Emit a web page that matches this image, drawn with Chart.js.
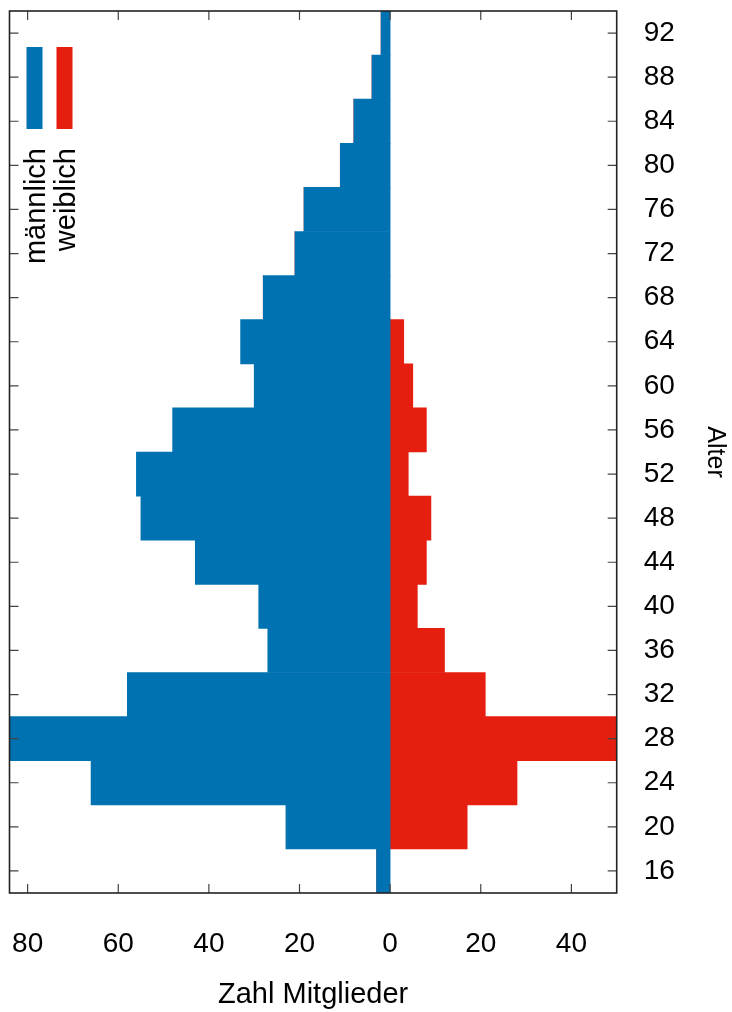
<!DOCTYPE html>
<html>
<head>
<meta charset="utf-8">
<script src="https://cdn.jsdelivr.net/npm/chart.js@4.4.0/dist/chart.umd.min.js"></script>
<style>
  html, body { margin: 0; padding: 0; background: #fff; }
  #wrap { width: 732px; height: 1012px; }
</style>
</head>
<body>
<div id="wrap"><canvas id="c"></canvas></div>
<script>
// Age groups (centres of 4-year bins)
const ages = [16, 20, 24, 28, 32, 36, 40, 44, 48, 52, 56, 60, 64, 68, 72, 76, 80, 84, 88, 92];
// Number of members per age group
const male   = [3, 23, 66, 88, 58, 27, 29, 43, 55, 56, 48, 30, 33, 28, 21, 19, 11, 8, 4, 2];
const female = [0, 17, 28, 55, 21, 12, 6, 8, 9, 4, 8, 5, 3, 0, 0, 0, 0, 0, 0, 0];
// X tick values (males drawn to the left as negatives)
const xTicks = [-80, -60, -40, -20, 0, 20, 40];
const xMin = -84, xMax = 50;
const seriesLabels = ['männlich', 'weiblich'];
const colors = ['#0072b2', '#e51e10'];

const FONT = '"Liberation Sans", Arial, Helvetica, sans-serif';

function zeroPad(scale) {
  scale.paddingTop = 0; scale.paddingBottom = 0;
  scale.paddingLeft = 0; scale.paddingRight = 0;
}

const framePlugin = {
  id: 'frame',
  afterDatasetsDraw(chart) {
    const { ctx, chartArea: a, scales } = chart;
    ctx.save();
    ctx.strokeStyle = '#444';
    ctx.lineWidth = 1.2;
    const tl = 9;
    ctx.beginPath();
    scales.x.ticks.forEach((t) => {
      const px = scales.x.getPixelForValue(t.value);
      ctx.moveTo(px, a.bottom); ctx.lineTo(px, a.bottom - tl);
      ctx.moveTo(px, a.top); ctx.lineTo(px, a.top + tl);
    });
    scales.y.ticks.forEach((t, i) => {
      const py = scales.y.getPixelForTick(i);
      ctx.moveTo(a.left, py); ctx.lineTo(a.left + tl, py);
      ctx.moveTo(a.right, py); ctx.lineTo(a.right - tl, py);
    });
    ctx.stroke();
    ctx.strokeStyle = '#222';
    ctx.lineWidth = 1.6;
    ctx.strokeRect(a.left, a.top, a.right - a.left, a.bottom - a.top);
    ctx.restore();
  },
  afterDraw(chart) {
    const { ctx, chartArea: a } = chart;
    ctx.save();
    chart.data.datasets.forEach((ds, i) => {
      const x0 = a.left + 17 + i * 30;
      ctx.fillStyle = ds.backgroundColor;
      ctx.fillRect(x0, a.top + 36, 16, 82);
      ctx.save();
      ctx.translate(x0 + 18, a.top + 137);
      ctx.rotate(-Math.PI / 2);
      ctx.fillStyle = '#000';
      ctx.font = '29px ' + FONT;
      ctx.textAlign = 'right';
      ctx.textBaseline = 'alphabetic';
      ctx.fillText(ds.label, 0, 0);
      ctx.restore();
    });
    ctx.restore();
  }
};

new Chart(document.getElementById('c'), {
  type: 'bar',
  data: {
    labels: ages.map(String),
    datasets: [
      { label: seriesLabels[0], data: male.map(v => -v), backgroundColor: colors[0],
        borderWidth: 0, barPercentage: 1, categoryPercentage: 1 },
      { label: seriesLabels[1], data: female, backgroundColor: colors[1],
        borderWidth: 0, barPercentage: 1, categoryPercentage: 1 }
    ]
  },
  options: {
    indexAxis: 'y',
    responsive: true,
    maintainAspectRatio: false,
    animation: false,
    layout: { padding: { left: 9.5, top: 11, right: 0, bottom: 0 } },
    plugins: { legend: { display: false }, tooltip: { enabled: false } },
    scales: {
      x: {
        type: 'linear', position: 'bottom', stacked: true,
        min: xMin, max: xMax,
        afterBuildTicks(scale) { scale.ticks = xTicks.map(v => ({ value: v })); },
        afterFit(scale) { zeroPad(scale); scale.height = 119; },
        grid: { display: false, drawTicks: false },
        border: { display: false },
        ticks: {
          callback: v => String(Math.abs(v)),
          font: { family: FONT, size: 28 }, color: '#000', padding: 34, maxRotation: 0
        },
        title: { display: true, text: 'Zahl Mitglieder', font: { family: FONT, size: 29 },
                 color: '#000', padding: { top: 16, bottom: 0 } }
      },
      y: {
        type: 'category', position: 'right', stacked: true, reverse: true, offset: true,
        afterFit(scale) { zeroPad(scale); scale.width = 115.3; },
        grid: { display: false, drawTicks: false },
        border: { display: false },
        ticks: { font: { family: FONT, size: 28 }, color: '#000', padding: 27, autoSkip: false },
        title: { display: true, text: 'Alter', font: { family: FONT, size: 25 },
                 color: '#000', padding: { top: 2.5, bottom: 0 } }
      }
    }
  },
  plugins: [framePlugin]
});
</script>
</body>
</html>
